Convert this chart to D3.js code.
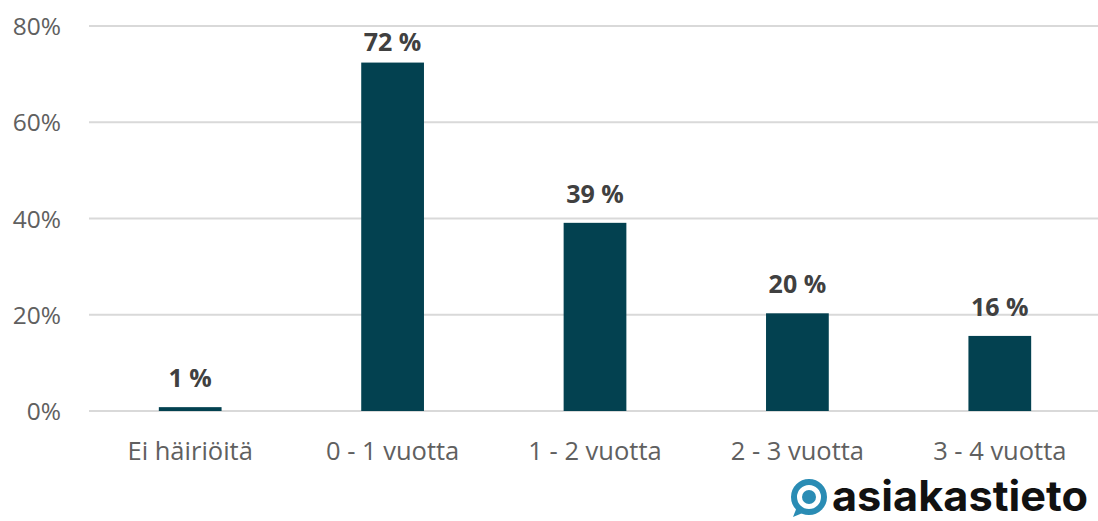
<!DOCTYPE html>
<head>
  <meta charset="utf-8">
  <script src="https://d3js.org/d3.v7.min.js"></script>
  <style>
    body { margin: 0; background: #fff; }
    text { font-family: "Open Sans", Lato, sans-serif; }
  </style>
</head>
<body>
<div id="chart"></div>
<script>
var categories = ["Ei häiriöitä", "0 - 1 vuotta", "1 - 2 vuotta", "2 - 3 vuotta", "3 - 4 vuotta"];
var values = [0.8, 72.4, 39.1, 20.3, 15.6];
var labels = ["1 %", "72 %", "39 %", "20 %", "16 %"];
var yTicks = [0, 20, 40, 60, 80];

var width = 1098, height = 521;
var svg = d3.select("#chart").append("svg")
  .attr("width", width)
  .attr("height", height);

var x = d3.scaleBand()
  .domain(categories)
  .range([89, 1101])
  .paddingInner(0.69)
  .paddingOuter(0.345);

var y = d3.scaleLinear()
  .domain([0, 80])
  .range([411, 26]);

// gridlines
svg.append("g")
  .selectAll("line")
  .data(yTicks)
  .enter().append("line")
  .attr("x1", 89).attr("x2", 1098)
  .attr("y1", d => y(d)).attr("y2", d => y(d))
  .attr("stroke", "#d9d9d9")
  .attr("stroke-width", 2);

// y axis labels
svg.append("g")
  .selectAll("text")
  .data(yTicks)
  .enter().append("text")
  .attr("x", 61)
  .attr("y", d => y(d) + 9)
  .attr("text-anchor", "end")
  .attr("font-size", 24.5)
  .attr("fill", "#606060")
  .text(d => d + "%");

// bars
svg.append("g")
  .selectAll("rect")
  .data(values)
  .enter().append("rect")
  .attr("x", (d, i) => x(categories[i]))
  .attr("width", x.bandwidth())
  .attr("y", d => y(d))
  .attr("height", d => y(0) - y(d))
  .attr("fill", "#034150");

// value labels (kept inside the plot area, like the tallest one)
svg.append("g")
  .selectAll("text")
  .data(values)
  .enter().append("text")
  .attr("x", (d, i) => x(categories[i]) + x.bandwidth() / 2)
  .attr("y", d => Math.max(y(d) - 20, 51))
  .attr("text-anchor", "middle")
  .attr("font-size", 25)
  .attr("font-weight", "bold")
  .attr("fill", "#404040")
  .text((d, i) => labels[i]);

// category labels
svg.append("g")
  .selectAll("text")
  .data(categories)
  .enter().append("text")
  .attr("x", d => x(d) + x.bandwidth() / 2)
  .attr("y", 460)
  .attr("text-anchor", "middle")
  .attr("font-size", 25.5)
  .attr("fill", "#606060")
  .text(d => d);

// logo
var logo = svg.append("g").attr("transform", "translate(809,497)");
logo.append("path")
  .attr("d", "M-12,10 L-16,20 L-4,15 Z")
  .attr("fill", "#2a8cb4");
logo.append("circle")
  .attr("r", 15)
  .attr("fill", "none")
  .attr("stroke", "#2a8cb4")
  .attr("stroke-width", 6);
logo.append("circle")
  .attr("r", 7)
  .attr("fill", "#2a8cb4");
svg.append("text")
  .attr("x", 832)
  .attr("y", 511)
  .attr("font-size", 42)
  .attr("font-weight", 700)
  .attr("textLength", 256)
  .attr("lengthAdjust", "spacingAndGlyphs")
  .attr("fill", "#111")
  .style("font-family", "Inter, sans-serif")
  .text("asiakastieto");
</script>
</body>
</html>
